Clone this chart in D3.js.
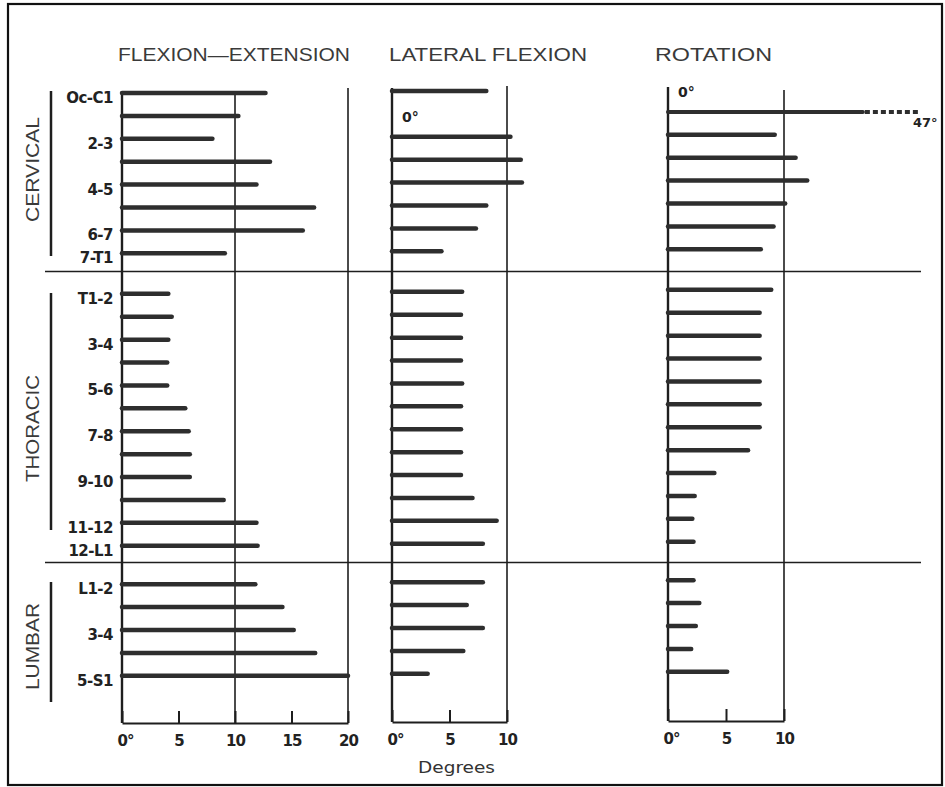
<!DOCTYPE html>
<html><head><meta charset="utf-8">
<script src="https://cdn.jsdelivr.net/npm/d3@7"></script>
<style>html,body{margin:0;padding:0;background:#fff} svg{display:block}</style>
</head><body><svg id="chart" width="945" height="787"></svg>
<script>
// ---------- DATA ----------
const segments = ["Oc-C1","C1-2","C2-3","C3-4","C4-5","C5-6","C6-7","C7-T1",
  "T1-2","T2-3","T3-4","T4-5","T5-6","T6-7","T7-8","T8-9","T9-10","T10-11","T11-12","T12-L1",
  "L1-2","L2-3","L3-4","L4-5","L5-S1"];
const rowLabels = ["Oc-C1","","2-3","","4-5","","6-7","7-T1",
  "T1-2","","3-4","","5-6","","7-8","","9-10","","11-12","12-L1",
  "L1-2","","3-4","","5-S1"];
const regions = ["CERVICAL","THORACIC","LUMBAR"];
const regionCounts = [8,12,5];
const flexionExtension = [12.7,10.3,8.0,13.1,11.9,17.0,16.0,9.1,
  4.1,4.4,4.1,4.0,4.0,5.6,5.9,6.0,6.0,9.0,11.9,12.0,
  11.8,14.2,15.2,17.1,20.0];
const lateralFlexion = [8.2,0,10.3,11.2,11.3,8.2,7.3,4.3,
  6.1,6.0,6.0,6.0,6.1,6.0,6.0,6.0,6.0,7.0,9.1,7.9,
  7.9,6.5,7.9,6.2,3.1];
const rotation = [0,47,9.2,11.0,12.0,10.1,9.1,8.0,
  8.9,7.9,7.9,7.9,7.9,7.9,7.9,6.9,4.0,2.3,2.1,2.2,
  2.2,2.7,2.4,2.0,5.1];
const flexTicks = [0,5,10,15,20];
const smallTicks = [0,5,10];
const titles = ["FLEXION\u2014EXTENSION","LATERAL FLEXION","ROTATION"];

// ---------- LAYOUT ----------
const svg = d3.select("#chart");
const ink = "#1e1e1e", barInk = "#2e2e2e";
svg.append("rect").attr("x",8).attr("y",4).attr("width",934).attr("height",781)
  .attr("fill","none").attr("stroke","#111").attr("stroke-width",2.2);

const regionStart = [0, 8.77, 21.45];
const slots = [];
regionCounts.forEach((n,r)=>{ for(let i=0;i<n;i++) slots.push(regionStart[r]+i); });
const y = d3.scaleLinear().domain([0,1]).range([93, 115.9]);

const panels = [
  {title:titles[0], values:flexionExtension, domain:[0,20], range:[122,348], ticks:flexTicks, grid:[10,20],
   dy:0, base:723, tops:{0:92,10:93,20:88}, titleX:[118,350]},
  {title:titles[1], values:lateralFlexion, domain:[0,10], range:[392,507], ticks:smallTicks, grid:[10],
   dy:-2, base:722, tops:{0:88,10:86}, titleX:[389,587]},
  {title:titles[2], values:rotation, domain:[0,10], range:[668,784], ticks:smallTicks, grid:[10],
   dy:-4, base:721, tops:{0:87,10:90}, titleX:[655,772]}
];

// separators
[7.8, 20.5].forEach(s=>{
  svg.append("line").attr("x1",45).attr("x2",921).attr("y1",y(s)).attr("y2",y(s))
    .attr("stroke",ink).attr("stroke-width",1.5);
});

panels.forEach((p,pi)=>{
  const x = d3.scaleLinear().domain(p.domain).range(p.range);
  const g = svg.append("g");
  // title
  g.append("text").attr("x",p.titleX[0]).attr("y",61).text(p.title)
    .attr("font-family","Liberation Sans, Arial, sans-serif").attr("font-size",19)
    .attr("fill","#3a3a3a").attr("textLength",p.titleX[1]-p.titleX[0]).attr("lengthAdjust","spacingAndGlyphs");
  // zero axis and grid lines
  [0, ...p.grid].forEach(v=>{
    g.append("line").attr("x1",x(v)).attr("x2",x(v)).attr("y1",p.tops[v]).attr("y2",p.base)
      .attr("stroke",ink).attr("stroke-width", v===0 ? 2.4 : 1.6);
  });
  // bottom axis
  const ax = d3.axisBottom(x).tickValues(p.ticks).tickSize(-12).tickSizeOuter(0).tickPadding(12)
    .tickFormat(d=> d===0 ? "0\u00b0" : d);
  const ag = g.append("g").attr("transform",`translate(0,${p.base})`).call(ax);
  ag.select(".domain").attr("stroke",ink).attr("stroke-width",2);
  ag.selectAll(".tick line").attr("stroke",ink).attr("stroke-width",2);
  ag.selectAll(".tick text").attr("font-family","DejaVu Sans, sans-serif").attr("font-weight","bold")
    .attr("font-size",15).attr("fill","#222").attr("letter-spacing",-1)
    .attr("dx", d=> d===0 ? 3 : 0);
  // bars
  const maxV = p.domain[1];
  p.values.forEach((v,i)=>{
    if (v<=0) return;
    const yy = y(slots[i]) + p.dy;
    if (v > maxV*1.5) {
      // broken bar (off-scale)
      const solidEnd = 16.8, dashEnd = 21.8;
      g.append("line").attr("x1",x(0)).attr("x2",x(solidEnd)).attr("y1",yy).attr("y2",yy)
        .attr("stroke",barInk).attr("stroke-width",4).attr("stroke-linecap","round");
      g.append("line").attr("x1",x(solidEnd)+2).attr("x2",x(dashEnd)).attr("y1",yy).attr("y2",yy)
        .attr("stroke",barInk).attr("stroke-width",4).attr("stroke-dasharray","5,3");
      g.append("text").attr("x",x(dashEnd)-8).attr("y",yy+15).text(v+"\u00b0")
        .attr("font-family","DejaVu Sans, sans-serif").attr("font-weight","bold").attr("font-size",13).attr("fill","#222");
    } else {
      g.append("line").attr("x1",x(0)).attr("x2",x(v)).attr("y1",yy).attr("y2",yy)
        .attr("stroke",barInk).attr("stroke-width",4.5).attr("stroke-linecap","round");
    }
  });
  // zero-value labels
  p.values.forEach((v,i)=>{
    if (v!==0) return;
    const yy = y(slots[i]) + p.dy;
    g.append("text").attr("x",x(0)+10).attr("y",yy+8).text("0\u00b0")
      .attr("font-family","DejaVu Sans, sans-serif").attr("font-weight","bold").attr("font-size",14).attr("fill","#222");
  });
});

// row labels
svg.append("g").selectAll("text").data(rowLabels).join("text")
  .attr("x",113).attr("y",(d,i)=>y(slots[i])+10).attr("text-anchor","end").text(d=>d)
  .attr("font-family","DejaVu Sans, sans-serif").attr("font-weight","bold").attr("font-size",15)
  .attr("fill","#222").attr("letter-spacing",-0.5);

// region labels and brackets
const regionText = [[117,222],[375,482],[603,690]];
const regionLine = [[91,256],[293,530],[582,702]];
regions.forEach((r,i)=>{
  const cy = (regionText[i][0]+regionText[i][1])/2;
  svg.append("text").attr("transform",`translate(39,${cy}) rotate(-90)`).attr("text-anchor","middle")
    .attr("x",0).attr("y",0).text(r)
    .attr("font-family","Liberation Sans, Arial, sans-serif").attr("font-size",19).attr("fill","#3a3a3a")
    .attr("textLength",regionText[i][1]-regionText[i][0]).attr("lengthAdjust","spacingAndGlyphs");
  svg.append("line").attr("x1",51).attr("x2",51).attr("y1",regionLine[i][0]).attr("y2",regionLine[i][1])
    .attr("stroke",ink).attr("stroke-width",2.5);
});

// axis title
svg.append("text").attr("x",418).attr("y",773).text("Degrees")
  .attr("font-family","DejaVu Sans, sans-serif").attr("font-size",15).attr("fill","#333")
  .attr("textLength",77).attr("lengthAdjust","spacingAndGlyphs");
</script></body></html>
